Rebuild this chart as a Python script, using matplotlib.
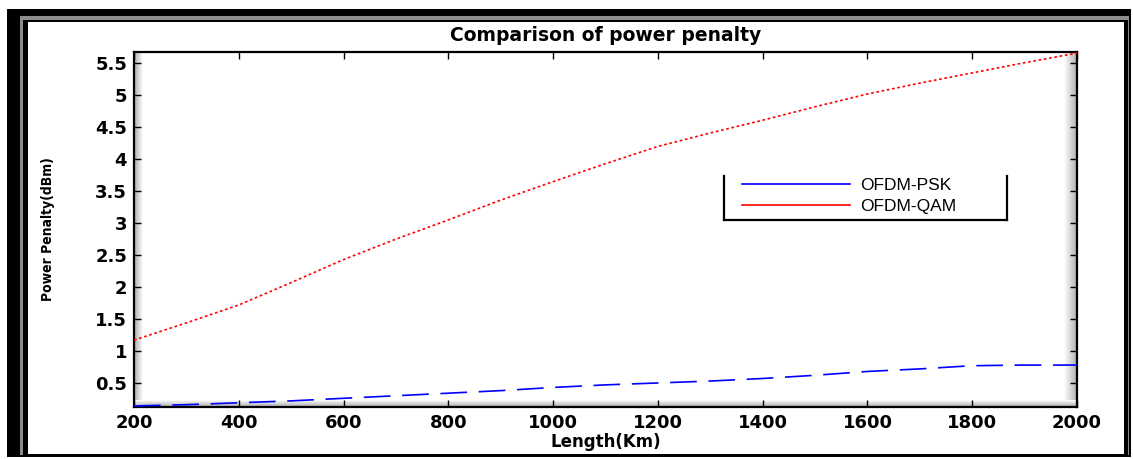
import numpy as np
import matplotlib
matplotlib.use("Agg")
import matplotlib.pyplot as plt
from matplotlib.patches import Rectangle
from matplotlib.lines import Line2D

# data
length_km = [200, 300, 400, 500, 600, 700, 800, 900, 1000, 1100,
             1200, 1300, 1400, 1500, 1600, 1700, 1800, 1900, 2000]
penalty_psk = [0.14, 0.16, 0.19, 0.22, 0.26, 0.30, 0.34, 0.38, 0.43, 0.47,
               0.50, 0.53, 0.57, 0.62, 0.68, 0.72, 0.77, 0.78, 0.78]
penalty_qam = [1.17, 1.44, 1.72, 2.07, 2.43, 2.75, 3.05, 3.36, 3.65, 3.93,
               4.20, 4.41, 4.61, 4.82, 5.02, 5.19, 5.35, 5.51, 5.66]
xticks = [200, 400, 600, 800, 1000, 1200, 1400, 1600, 1800, 2000]
yticks = [0.5, 1, 1.5, 2, 2.5, 3, 3.5, 4, 4.5, 5, 5.5]

W, H = 1133, 459
fig = plt.figure(figsize=(W / 100, H / 100), dpi=100, facecolor='white')


def box(x0, y0, x1, y1, color):
    # pixel box (top-left origin) drawn in figure coords
    r = Rectangle((x0 / W, 1 - y1 / H), (x1 - x0) / W, (y1 - y0) / H,
                  transform=fig.transFigure, facecolor=color, edgecolor='none', zorder=-10)
    fig.add_artist(r)


# window-like frame
box(7, 9, 1131, 457, 'black')
box(20, 16, 1129, 455, '#8c8c8c')
box(23, 20, 1128, 457, 'black')
box(28, 22, 1124, 454, 'white')

ax = fig.add_axes([134 / W, 1 - 407 / H, (1077 - 134) / W, (407 - 52) / H])

# soft grey shading along the inner edges of the plot box
g = np.linspace(0.66, 1.0, 50)
ax.imshow(g[np.newaxis, :], extent=[0, 0.0095, 0, 1], transform=ax.transAxes,
          aspect='auto', cmap='gray', vmin=0, vmax=1, zorder=0.5)
ax.imshow(g[::-1][np.newaxis, :], extent=[1 - 0.0138, 1, 0, 1], transform=ax.transAxes,
          aspect='auto', cmap='gray', vmin=0, vmax=1, zorder=0.5)
ax.imshow(g[:, np.newaxis], extent=[0, 1, 0, 0.017], transform=ax.transAxes,
          aspect='auto', cmap='gray', vmin=0, vmax=1, zorder=0.5, origin='lower')

psk, = ax.plot(length_km, penalty_psk, color='blue', lw=1.2, label='OFDM-PSK', zorder=3)
psk.set_dashes((16, 7))
qam, = ax.plot(length_km, penalty_qam, color='red', lw=1.2, label='OFDM-QAM', zorder=3)
qam.set_dashes((1.6, 1.6))

ax.set_xlim(200, 2000)
ax.set_ylim(0.124, 5.677)
ax.set_xticks(xticks)
ax.set_yticks(yticks)
ax.set_xticklabels([str(v) for v in xticks])
ax.set_yticklabels(['%g' % v for v in yticks])
ax.tick_params(direction='in', length=5, width=1, top=True, right=True,
               labelsize=13, pad=5)
for lab in ax.get_xticklabels() + ax.get_yticklabels():
    lab.set_fontweight('bold')
for s in ax.spines.values():
    s.set_linewidth(1.6)

ax.set_title('Comparison of power penalty', fontsize=13.5, fontweight='bold', pad=8)
ax.set_xlabel('Length(Km)', fontsize=12, fontweight='bold', labelpad=1)
ax.set_ylabel('Power Penalty(dBm)', fontsize=10, fontweight='bold',
              fontstretch='condensed', labelpad=29)

leg = ax.legend(loc='upper left', bbox_to_anchor=(0.6448, 0.645), frameon=False,
                borderpad=0, borderaxespad=0, handlelength=6.2, handletextpad=0.6,
                labelspacing=0.35, prop={'family': 'Liberation Sans', 'size': 12.5})
for h in leg.get_lines():
    h.set_linestyle('-')
    h.set_linewidth(1.2)

# legend box: left, bottom and right edges only
lx0, lx1, ly0, ly1 = 724, 1007, 176, 220
for xs, ys in [([lx0, lx0], [ly0, ly1]), ([lx0, lx1], [ly1, ly1]), ([lx1, lx1], [ly0, ly1])]:
    fig.add_artist(Line2D([x / W for x in xs], [1 - y / H for y in ys],
                          transform=fig.transFigure, color='black', lw=1.6))

fig.savefig('out.png', dpi=100, facecolor='white')
